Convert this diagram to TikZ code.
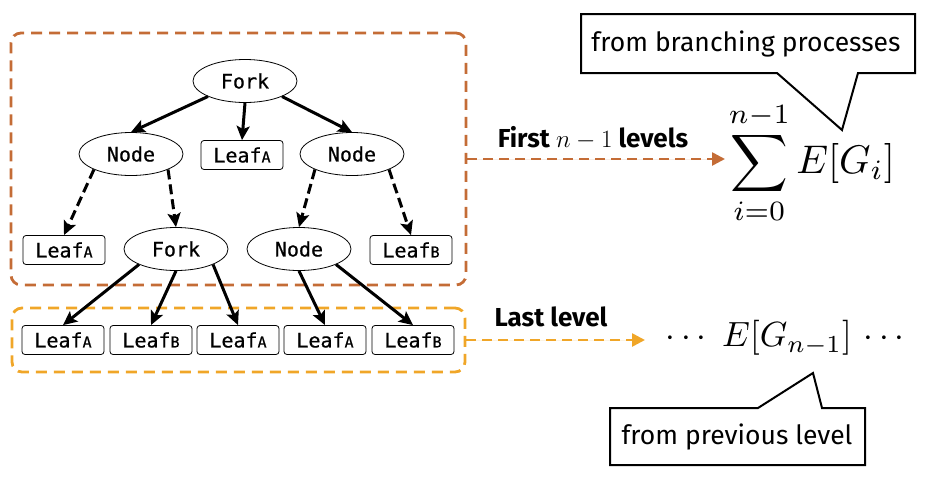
\documentclass[tikz,border=0pt]{standalone}
\usepackage{amsmath}
\usepackage{graphicx}
\usepackage{fontspec}
\setmainfont{Fira Sans}
\setmonofont{DejaVu Sans Mono}
\newfontfamily\monomed[FakeBold=0.6]{DejaVu Sans Mono}
\usetikzlibrary{arrows.meta,shapes.geometric}
\definecolor{orng}{RGB}{196,108,54}
\definecolor{ylw}{RGB}{240,166,40}
\newcommand{\lf}[1]{Leaf{\fontsize{15}{15}\selectfont #1}}
\begin{document}
\begin{tikzpicture}[x=1pt,y=-1pt,
  tnode/.style={ellipse, draw, line width=0.8pt, minimum width=104pt, minimum height=43pt, inner sep=0pt, font=\monomed\fontsize{20}{22}\selectfont},
  leafbox/.style={rectangle, rounded corners=3pt, draw, line width=0.8pt, minimum width=82pt, minimum height=29pt, inner sep=0pt, font=\monomed\fontsize{20}{22}\selectfont},
  solidarr/.style={-{Stealth[length=14pt,width=13pt,inset=3pt]}, line width=3pt},
  dasharr/.style={solidarr, dash pattern=on 10pt off 5pt},
  grpbox/.style={rectangle, draw, rounded corners=10pt, line width=2.8pt, dash pattern=on 11pt off 7pt, inner sep=0pt},
  grparr/.style={-{Triangle[length=13pt,width=13pt]}, line width=2.6pt, dash pattern=on 10pt off 6pt},
  lbl/.style={font=\bfseries\fontsize{26}{30}\selectfont, inner sep=0pt},
  callout/.style={draw, line width=2pt, fill=white, line join=miter},
  calltxt/.style={font=\fontsize{26.5}{30}\selectfont, inner sep=0pt},
  mathtxt/.style={inner sep=0pt}
]
\useasboundingbox (0,0) rectangle (940,480);

% group boxes
\node[grpbox, draw=orng, minimum width=455pt, minimum height=252pt] (grp1) at (238.5,159) {};
\node[grpbox, draw=ylw, minimum width=453pt, minimum height=64pt] (grp2) at (238.5,340) {};

% tree nodes
\node[tnode] (f1) at (245,81) {Fork};
\node[tnode] (n1) at (131,154) {Node};
\node[leafbox] (la1) at (242,155) {\lf{A}};
\node[tnode] (n2) at (352,154) {Node};
\node[leafbox] (la2) at (64,250) {\lf{A}};
\node[tnode] (f2) at (176,249) {Fork};
\node[tnode] (n3) at (299,249) {Node};
\node[leafbox] (lb1) at (411,250) {\lf{B}};
\node[leafbox] (r1) at (63,340) {\lf{A}};
\node[leafbox] (r2) at (151,340) {\lf{B}};
\node[leafbox] (r3) at (238,340) {\lf{A}};
\node[leafbox] (r4) at (325,340) {\lf{A}};
\node[leafbox] (r5) at (413,340) {\lf{B}};

% tree edges
\draw[solidarr] (f1.south west) -- (n1.north);
\draw[solidarr] (f1.south) -- (la1.north);
\draw[solidarr] (f1.south east) -- (n2.north);
\draw[dasharr] (n1.south west) -- (la2.north);
\draw[dasharr] (n1.south east) -- (f2.north);
\draw[dasharr] (n2.south west) -- (n3.north);
\draw[dasharr] (n2.south east) -- (lb1.north);
\draw[solidarr] (f2.south west) -- (r1.north);
\draw[solidarr] (f2.south) -- (r2.north);
\draw[solidarr] (f2.south east) -- (r3.north);
\draw[solidarr] (n3.south) -- (r4.north);
\draw[solidarr] (n3.south east) -- (r5.north);

% right side arrows
\coordinate (e1) at (725,159);
\coordinate (e2) at (645,340);
\draw[grparr, draw=orng, fill=orng] (grp1.east) -- (e1);
\draw[grparr, draw=ylw, fill=ylw] (grp2.east) -- (e2);
\node[lbl] (l1) at (593,138) {First $n-1$ levels};
\node[lbl] (l2) at (551,317) {Last level};

% formulas
\node[mathtxt] (sumf) at (812,163) {\scalebox{4}{$\displaystyle\sum_{i=0}^{n-1} E[G_i]$}};
\node[mathtxt] (lastf) at (788,338) {\scalebox{3.5}{$\cdots\; E[G_{n-1}]\,\cdots$}};

% callouts
\draw[callout] (581,14) -- (915,14) -- (915,73) -- (858,73) -- (842,130) -- (777,73) -- (581,73) -- cycle;
\node[calltxt] (c1) at (746,44) {from branching processes};
\draw[callout] (610,408) -- (758,408) -- (813,373) -- (822,408) -- (865,408) -- (865,465) -- (610,465) -- cycle;
\node[calltxt] (c2) at (737,437) {from previous level};
\end{tikzpicture}
\end{document}
